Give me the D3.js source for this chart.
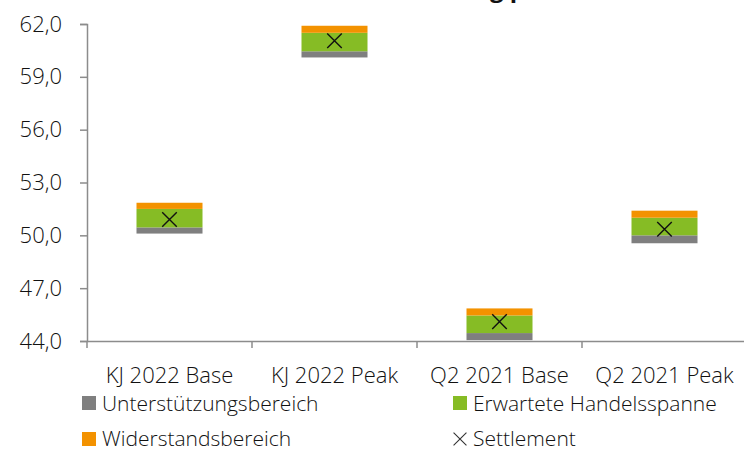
<!DOCTYPE html>
<html>
<head>
<meta charset="utf-8">
<script src="https://cdn.jsdelivr.net/npm/d3@7"></script>
<style>
	body { margin: 0; background: #fff; }
	svg text { font-family: "Open Sans", sans-serif; font-weight: 300; fill: #111; }
</style>
</head>
<body>
<div id="viz"></div>
<script>
// categories and ranges
const categories = ['KJ 2022 Base', 'KJ 2022 Peak', 'Q2 2021 Base', 'Q2 2021 Peak'];
const supportLow = [50.1, 60.1, 44.05, 49.55];
const supportHigh = [50.45, 60.45, 44.45, 50.0];
const resistLow = [51.5, 61.5, 45.45, 51.0];
const resistHigh = [51.85, 61.9, 45.85, 51.4];
const settlement = [50.9, 61.05, 45.1, 50.35];
const yTicks = [44, 47, 50, 53, 56, 59, 62];

const legendItems = [
	{ name: 'Unterstützungsbereich', color: '#7f7f7f', type: 'rect' },
	{ name: 'Erwartete Handelsspanne', color: '#86bc25', type: 'rect' },
	{ name: 'Widerstandsbereich', color: '#f39200', type: 'rect' },
	{ name: 'Settlement', color: '#1a1a1a', type: 'cross' }
];

let width = 744, height = 449;
let margin = { top: 24, right: -3, bottom: 108, left: 87 };

let svg = d3.select('#viz').append('svg')
	.attr('width', width)
	.attr('height', height);

// title, mostly cut off at the top edge
let title = svg.append('text')
	.attr('y', -3.5)
	.attr('font-size', 24)
	.style('font-weight', 'bold')
	.text('Erwartung pro Produkt');
let gPos = title.node().getStartPositionOfChar(8).x;
title.attr('x', 490 - gPos);

let x = d3.scaleBand()
	.domain(categories)
	.range([margin.left, width - margin.right])
	.padding(0);

let y = d3.scaleLinear()
	.domain([44, 62])
	.range([height - margin.bottom, margin.top]);

let yAxis = g => g
	.attr('transform', `translate(${margin.left},0)`)
	.call(d3.axisLeft(y)
		.tickValues(yTicks)
		.tickSize(7)
		.tickPadding(18)
		.tickFormat(d => d3.format('.1f')(d).replace('.', ',')));

let xAxis = g => g
	.attr('transform', `translate(0,${y(44)})`)
	.call(d3.axisBottom(x).tickSize(0).tickSizeOuter(0).tickPadding(26));

svg.append('g').call(yAxis);
let gx = svg.append('g').call(xAxis);

// tick marks at the band edges
gx.selectAll('.edge')
	.data(categories)
	.join('line')
	.attr('class', 'edge')
	.attr('x1', d => x(d)).attr('x2', d => x(d))
	.attr('y1', 0).attr('y2', 7);

svg.selectAll('.domain, .tick line, .edge')
	.attr('stroke', '#8c8c8c')
	.attr('stroke-width', 1.5);
svg.selectAll('.tick text')
	.attr('font-size', 22)
	.attr('fill', '#111');

let boxW = x.bandwidth() * 0.4;
let cx = d => x(d) + x.bandwidth() / 2;

let layers = [
	{ lo: supportLow, hi: supportHigh, color: legendItems[0].color },
	{ lo: supportHigh, hi: resistLow, color: legendItems[1].color },
	{ lo: resistLow, hi: resistHigh, color: legendItems[2].color }
];

for (let layer of layers) {
	svg.append('g')
		.selectAll('rect')
		.data(categories)
		.join('rect')
		.attr('x', d => cx(d) - boxW / 2)
		.attr('width', boxW)
		.attr('y', (d, i) => y(layer.hi[i]))
		.attr('height', (d, i) => y(layer.lo[i]) - y(layer.hi[i]))
		.attr('fill', layer.color);
}

let cross = d3.symbol(d3.symbolX, 140);
svg.append('g')
	.selectAll('path')
	.data(categories)
	.join('path')
	.attr('transform', (d, i) => `translate(${cx(d)},${y(settlement[i])})`)
	.attr('d', cross)
	.attr('fill', 'none')
	.attr('stroke', '#111')
	.attr('stroke-width', 1.4);

// legend
let legend = svg.append('g');
let legPos = [[82, 403], [453, 403], [82, 439], [453, 439]];

legendItems.forEach((item, i) => {
	let [lx, ly] = legPos[i];
	let g = legend.append('g').attr('transform', `translate(${lx},${ly})`);
	if (item.type === 'rect') {
		g.append('rect')
			.attr('x', 0).attr('y', -7)
			.attr('width', 14).attr('height', 14)
			.attr('fill', item.color);
	} else {
		g.append('path')
			.attr('transform', 'translate(7,0)')
			.attr('d', d3.symbol(d3.symbolX, 110))
			.attr('fill', 'none')
			.attr('stroke', '#333')
			.attr('stroke-width', 1.1);
	}
	g.append('text')
		.attr('x', 20)
		.attr('y', i < 2 ? 8 : 7)
		.attr('font-size', 21)
		.text(item.name);
});
</script>
</body>
</html>
